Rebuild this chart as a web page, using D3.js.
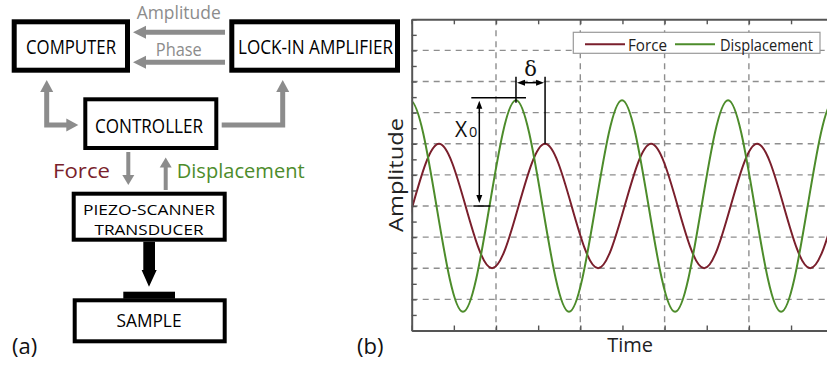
<!DOCTYPE html>
<html>
<head>
<meta charset="utf-8">
<script src="https://cdn.jsdelivr.net/npm/d3@7"></script>
<style>
  html, body { margin: 0; padding: 0; background: #fff; }
  svg { display: block; font-family: "Open Sans", "Noto Sans", sans-serif; }
</style>
</head>
<body>
<svg id="fig" width="827" height="367"></svg>
<script>
// ---- Signal data: (time, amplitude) at peaks, troughs and mid-line crossings ----
const seriesNames = ["Force", "Displacement"];
const forcePoints = [
  [-0.620, 4], [-0.305, 2], [0.010, 4], [0.324, 6], [0.639, 4], [0.953, 2],
  [1.268, 4], [1.582, 6], [1.897, 4], [2.211, 2], [2.526, 4], [2.840, 6],
  [3.155, 4], [3.469, 2], [3.784, 4], [4.098, 6], [4.413, 4], [4.727, 2], [5.042, 4]
];
const displacementPoints = [
  [-0.336, 4], [-0.021, 7.4], [0.294, 4], [0.608, 0.6], [0.923, 4], [1.237, 7.4],
  [1.552, 4], [1.866, 0.6], [2.181, 4], [2.495, 7.4], [2.810, 4], [3.124, 0.6],
  [3.439, 4], [3.753, 7.4], [4.068, 4], [4.382, 0.6], [4.697, 4], [5.011, 7.4], [5.326, 4]
];
const timeMajorTicks = [0, 1, 2, 3, 4, 5];
const timeMinorTicks = [0.5, 1.5, 2.5, 3.5, 4.5];
const ampMajorTicks = [0, 1, 2, 3, 4, 5, 6, 7, 8, 9, 10];
const ampMinorTicks = [0.5, 1.5, 2.5, 3.5, 4.5, 5.5, 6.5, 7.5, 8.5, 9.5];
// Annotated features: displacement peak used for X0, force peak that lags it by delta
const displacementPeakT = 1.237, displacementPeakV = 7.4, midline = 4;
const forcePeakT = 1.582, forcePeakV = 6;
const x0ArrowT = 0.802;

const colors = { Force: "#7a1f2c", Displacement: "#4d8c2b" };
const arrowGray = "#8c8c8c";

const svg = d3.select("#fig");
svg.append("rect").attr("width", 827).attr("height", 367).attr("fill", "#fff");

// ================= (a) block diagram =================
const diag = svg.append("g");

function box(x, y, w, h, sw) {
  diag.append("rect").attr("x", x).attr("y", y).attr("width", w).attr("height", h)
    .attr("fill", "#fff").attr("stroke", "#000").attr("stroke-width", sw);
}
function label(txt, cx, base, size, len, fill) {
  diag.append("text").attr("x", cx).attr("y", base).attr("text-anchor", "middle")
    .attr("font-size", size).attr("fill", fill || "#000")
    .attr("textLength", len).attr("lengthAdjust", "spacingAndGlyphs").text(txt);
}
// gray arrow: polyline with triangular heads at either end
function grayArrow(pts, headStart, headEnd, hl, hw, sw) {
  const color = arrowGray;
  const trimmed = pts.map(p => p.slice());
  function head(tip, from) {
    const dx = tip[0] - from[0], dy = tip[1] - from[1];
    const L = Math.hypot(dx, dy), ux = dx / L, uy = dy / L;
    const bx = tip[0] - ux * hl, by = tip[1] - uy * hl;
    diag.append("path")
      .attr("d", `M${tip[0]},${tip[1]}L${bx - uy * hw},${by + ux * hw}L${bx + uy * hw},${by - ux * hw}Z`)
      .attr("fill", color);
    return [bx + ux * 1, by + uy * 1];
  }
  if (headEnd) trimmed[trimmed.length - 1] = head(pts[pts.length - 1], pts[pts.length - 2]);
  if (headStart) trimmed[0] = head(pts[0], pts[1]);
  diag.append("path").attr("d", d3.line()(trimmed)).attr("fill", "none")
    .attr("stroke", color).attr("stroke-width", sw).attr("stroke-linejoin", "miter");
}

box(14.2, 21.8, 113.3, 48.4, 5);
label("COMPUTER", 71, 54, 20, 90);
box(231.8, 21.8, 165.7, 48.4, 5);
label("LOCK-IN AMPLIFIER", 315.5, 54, 20, 155);
box(85.3, 99.3, 131, 48.7, 4);
label("CONTROLLER", 149, 133.3, 20, 108);
box(73.7, 193.7, 151, 46, 4);
label("PIEZO-SCANNER", 149, 214.6, 15, 132);
label("TRANSDUCER", 149, 235.2, 15, 109);
box(74.7, 300.3, 150, 41, 4);
label("SAMPLE", 149, 326.7, 18, 65);
diag.append("rect").attr("x", 123.3).attr("y", 291.7).attr("width", 51.7).attr("height", 7).attr("fill", "#000");

// signal arrows between instruments
grayArrow([[225, 32.3], [133, 32.3]], false, true, 13, 6.5, 5);
grayArrow([[225, 62.3], [133, 62.3]], false, true, 13, 6.5, 5);
label("Amplitude", 178.7, 18.5, 18.5, 84, arrowGray);
label("Phase", 178.8, 56, 18.5, 46, arrowGray);
grayArrow([[46.7, 80], [46.7, 125], [78.3, 125]], true, true, 12, 6.5, 5);
grayArrow([[221.7, 125], [282.7, 125], [282.7, 80]], false, true, 12, 6.5, 5);
grayArrow([[128.3, 152], [128.3, 185]], false, true, 10, 6, 4);
grayArrow([[165.7, 190], [165.7, 157.5]], false, true, 10, 6, 4);
diag.append("text").attr("x", 110).attr("y", 178.3).attr("text-anchor", "end")
  .attr("font-size", 20.5).attr("fill", colors.Force)
  .attr("textLength", 57).attr("lengthAdjust", "spacingAndGlyphs").text(seriesNames[0]);
diag.append("text").attr("x", 176.7).attr("y", 178.3)
  .attr("font-size", 20.5).attr("fill", colors.Displacement)
  .attr("textLength", 128).attr("lengthAdjust", "spacingAndGlyphs").text(seriesNames[1]);

// black drive arrow onto the sample
diag.append("path")
  .attr("d", "M143.3,241.7L155,241.7L155,270L156.7,270L149,286.7L141.6,270L143.3,270Z")
  .attr("fill", "#000");

diag.append("text").attr("x", 12).attr("y", 354).attr("font-size", 22).attr("fill", "#111").text("(a)");

// ================= (b) signal plot =================
const plotL = 411.7, plotR = 833.2, plotT = 19.3, plotB = 330.5;
const x = d3.scaleLinear().domain([0, 5]).range([plotL, plotR]);
const y = d3.scaleLinear().domain([0, 10]).range([plotB, plotT]);

const plot = svg.append("g");
svg.append("defs").append("clipPath").attr("id", "plotClip")
  .append("rect").attr("x", plotL).attr("y", plotT).attr("width", plotR - plotL).attr("height", plotB - plotT);

// dashed grid
const grid = plot.append("g").attr("stroke", "#8e8e8e").attr("stroke-width", 1.4)
  .attr("stroke-dasharray", "6,5");
grid.selectAll("line.h").data(ampMajorTicks.slice(1, -1)).join("line").attr("class", "h")
  .attr("x1", plotL).attr("x2", plotR).attr("y1", d => y(d)).attr("y2", d => y(d));
grid.selectAll("line.v").data(timeMajorTicks.slice(1, -1)).join("line").attr("class", "v")
  .attr("y1", plotT).attr("y2", plotB).attr("x1", d => x(d)).attr("x2", d => x(d));

// curves
const line = d3.line().x(d => x(d[0])).y(d => y(d[1])).curve(d3.curveNatural);
const curves = plot.append("g").attr("clip-path", "url(#plotClip)");
curves.append("path").datum(forcePoints).attr("d", line).attr("fill", "none")
  .attr("stroke", colors.Force).attr("stroke-width", 2);
curves.append("path").datum(displacementPoints).attr("d", line).attr("fill", "none")
  .attr("stroke", colors.Displacement).attr("stroke-width", 2);

// axes with inward ticks and no labels
const axisColor = "#555";
function styleAxis(g) {
  g.select(".domain").attr("stroke", axisColor).attr("stroke-width", 2);
  g.selectAll(".tick line").attr("stroke", axisColor).attr("stroke-width", 1.4);
  g.selectAll(".tick text").remove();
}
const allAmp = ampMajorTicks.concat(ampMinorTicks);
const allTime = timeMajorTicks.concat(timeMinorTicks);
plot.append("g").attr("transform", `translate(${plotL},0)`)
  .call(d3.axisLeft(y).tickValues(allAmp).tickSize(-5).tickSizeOuter(0)).call(styleAxis);
plot.append("g").attr("transform", `translate(0,${plotB})`)
  .call(d3.axisBottom(x).tickValues(allTime).tickSize(-5).tickSizeOuter(0)).call(styleAxis);
plot.append("g").attr("transform", `translate(0,${plotT})`)
  .call(d3.axisTop(x).tickValues(allTime).tickSize(-5).tickSizeOuter(0)).call(styleAxis);

// axis titles
plot.append("text").attr("x", x(2.590)).attr("y", 352).attr("text-anchor", "middle")
  .attr("font-size", 20).attr("fill", "#222").text("Time");
plot.append("text").attr("transform", `translate(402.5,175) rotate(-90)`).attr("text-anchor", "middle")
  .attr("font-size", 20).attr("fill", "#222")
  .attr("textLength", 114).attr("lengthAdjust", "spacingAndGlyphs").text("Amplitude");

// legend
const lg = plot.append("g");
lg.append("rect").attr("x", 573.3).attr("y", 32.3).attr("width", 246.7).attr("height", 21)
  .attr("fill", "#fff").attr("stroke", "#999").attr("stroke-width", 1.2);
const legendItems = [
  { name: seriesNames[0], x1: 585, x2: 625, tx: 628, len: 39 },
  { name: seriesNames[1], x1: 675, x2: 715, tx: 720, len: 93 }
];
legendItems.forEach(it => {
  lg.append("line").attr("x1", it.x1).attr("x2", it.x2).attr("y1", 44.3).attr("y2", 44.3)
    .attr("stroke", colors[it.name]).attr("stroke-width", 2);
  lg.append("text").attr("x", it.tx).attr("y", 50.5).attr("font-size", 15.5).attr("fill", "#222")
    .attr("textLength", it.len).attr("lengthAdjust", "spacingAndGlyphs").text(it.name);
});

// annotations: amplitude X0 and phase lag delta
const ann = plot.append("g").attr("stroke", "#000").attr("stroke-width", 1.5);
const ax = x(x0ArrowT), yTop = y(displacementPeakV) - 2.5, yMid = y(midline);
ann.append("line").attr("x1", ax - 8).attr("x2", x(displacementPeakT) + 10).attr("y1", yTop).attr("y2", yTop);
ann.append("line").attr("x1", ax - 6).attr("x2", ax + 11).attr("y1", yMid).attr("y2", yMid);
ann.append("line").attr("x1", ax).attr("x2", ax).attr("y1", yTop + 8).attr("y2", yMid - 8);
function tri(tx, ty, dx, dy) { // small black arrow head, tip at (tx,ty), pointing along (dx,dy)
  const hl = 8, hw = 3;
  const bx = tx - dx * hl, by = ty - dy * hl;
  plot.append("path").attr("d", `M${tx},${ty}L${bx - dy * hw},${by + dx * hw}L${bx + dy * hw},${by - dx * hw}Z`)
    .attr("fill", "#000");
}
tri(ax, yTop + 3, 0, -1);
tri(ax, yMid - 3, 0, 1);
plot.append("text").attr("x", 455).attr("y", 137.3).attr("font-size", 21).attr("fill", "#111").text("X");
plot.append("text").attr("x", 469).attr("y", 137.3).attr("font-size", 14.5).attr("fill", "#111").text("0");

const gx = x(displacementPeakT), fx = x(forcePeakT), dTop = 76.7, dY = 82.7;
ann.append("line").attr("x1", gx).attr("x2", gx).attr("y1", dTop).attr("y2", yTop + 5);
ann.append("line").attr("x1", fx).attr("x2", fx).attr("y1", dTop).attr("y2", y(forcePeakV));
ann.append("line").attr("x1", gx + 6).attr("x2", fx - 6).attr("y1", dY).attr("y2", dY);
tri(gx + 1, dY, -1, 0);
tri(fx - 1, dY, 1, 0);
plot.append("text").attr("x", (gx + fx) / 2).attr("y", 76).attr("text-anchor", "middle")
  .attr("font-family", "'DejaVu Serif', 'Liberation Serif', serif").attr("font-size", 21).attr("fill", "#111").text("δ");

plot.append("text").attr("x", 357).attr("y", 354).attr("font-size", 22).attr("fill", "#111").text("(b)");
</script>
</body>
</html>
